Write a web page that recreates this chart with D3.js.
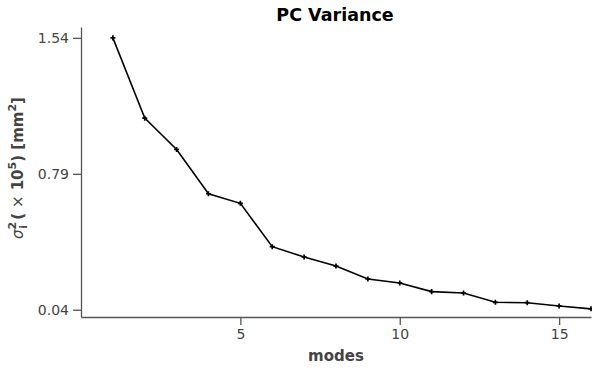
<!DOCTYPE html>
<html>
<head>
<meta charset="utf-8">
<script src="https://cdn.jsdelivr.net/npm/d3@7"></script>
<style>
  body { margin: 0; background: #fff; }
  text { font-family: "DejaVu Sans", sans-serif; }
</style>
</head>
<body>
<svg id="chart" width="592" height="368"></svg>
<script>
// valori
const modes = [1, 2, 3, 4, 5, 6, 7, 8, 9, 10, 11, 12, 13, 14, 15, 16]
const variance = [1.54, 1.097, 0.924, 0.68, 0.627, 0.388, 0.331, 0.281, 0.21, 0.188, 0.14, 0.132, 0.081, 0.079, 0.061, 0.045]
const xTicks = [5, 10, 15]
const yTicks = [0.04, 0.79, 1.54]

const svg = d3.select('#chart')
const axisColor = '#555'
const labelColor = '#444'

const xScale = d3.scaleLinear()
  .domain([0, 16])
  .range([81, 591])

const yScale = d3.scaleLinear()
  .domain([0, 1.6])
  .range([317, 27])

// asse x
const xAxisGroup = svg.append('g')
  .attr('transform', `translate(0, ${yScale(0)})`)
  .call(d3.axisBottom(xScale)
    .tickValues(xTicks)
    .tickSize(8)
    .tickPadding(4)
    .tickSizeOuter(0))

// asse y
const yAxisGroup = svg.append('g')
  .attr('transform', `translate(${xScale(0)}, 0)`)
  .call(d3.axisLeft(yScale)
    .tickValues(yTicks)
    .tickFormat(d3.format('.2f'))
    .tickSize(8)
    .tickPadding(4)
    .tickSizeOuter(0))

svg.selectAll('.domain, .tick line')
  .attr('stroke', axisColor)
  .attr('stroke-width', 1.3)

svg.selectAll('.tick text')
  .attr('fill', labelColor)
  .style('font-size', '14px')
  .style('font-family', '"DejaVu Sans", sans-serif')

// linea dei dati
const line = d3.line()
  .x((d, i) => xScale(modes[i]))
  .y(d => yScale(d))

svg.append('path')
  .datum(variance)
  .attr('fill', 'none')
  .attr('stroke', 'black')
  .attr('stroke-width', 1.6)
  .attr('d', line)

svg.selectAll('.marker')
  .data(variance)
  .enter()
  .append('path')
  .attr('class', 'marker')
  .attr('transform', (d, i) => `translate(${xScale(modes[i])}, ${yScale(d)})`)
  .attr('d', d3.symbol().type(d3.symbolCross).size(14))
  .attr('fill', 'black')

// titolo
svg.append('text')
  .attr('x', 335)
  .attr('y', 21)
  .attr('text-anchor', 'middle')
  .style('font-size', '17.5px')
  .style('font-weight', 'bold')
  .attr('fill', 'black')
  .text('PC Variance')

// etichetta asse x
svg.append('text')
  .attr('x', 336)
  .attr('y', 361)
  .attr('text-anchor', 'middle')
  .style('font-size', '15px')
  .style('font-weight', 'bold')
  .attr('fill', labelColor)
  .text('modes')

// etichetta asse y
const yLabel = svg.append('text')
  .attr('transform', 'translate(23, 168) rotate(-90)')
  .attr('text-anchor', 'middle')
  .style('font-size', '15px')
  .style('font-weight', 'bold')
  .attr('fill', labelColor)

yLabel.append('tspan').style('font-style', 'italic').style('font-weight', 'normal').text('σ')
yLabel.append('tspan').attr('dy', -7).style('font-size', '11px').text('2')
yLabel.append('tspan').attr('dx', -7).attr('dy', 11).style('font-size', '11px').text('i')
yLabel.append('tspan').attr('dy', -4).text('  (')
yLabel.append('tspan').style('font-weight', 'normal').text(' ×')
yLabel.append('tspan').text(' 10')
yLabel.append('tspan').attr('dy', -7).style('font-size', '11px').text('5')
yLabel.append('tspan').attr('dy', 7).text(') [mm')
yLabel.append('tspan').attr('dy', -7).style('font-size', '11px').text('2')
yLabel.append('tspan').attr('dy', 7).text(']')
</script>
</body>
</html>
